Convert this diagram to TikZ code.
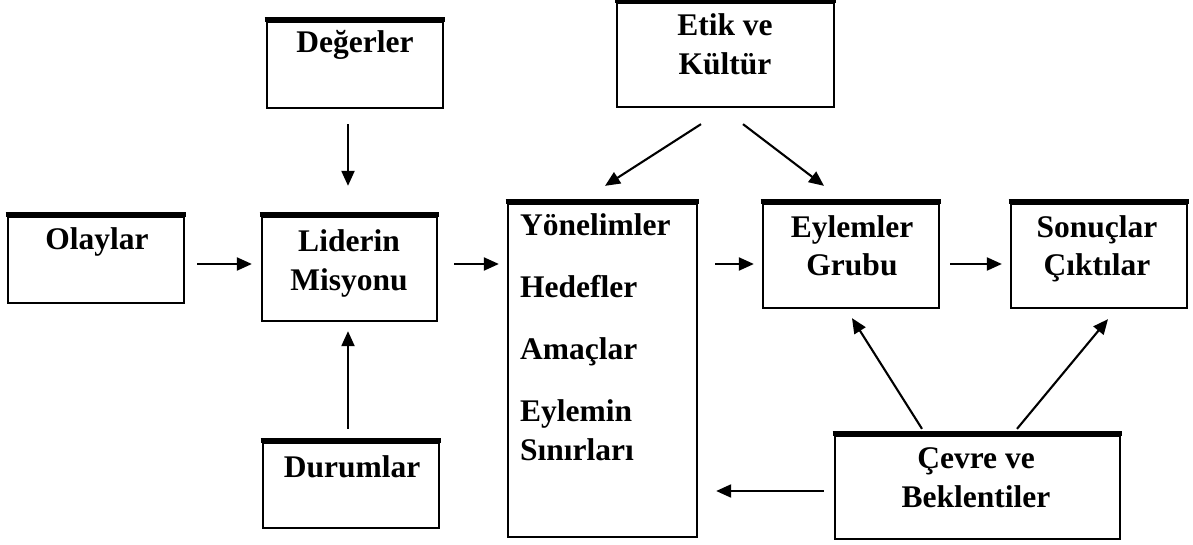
\documentclass[tikz,border=0pt]{standalone}
\usepackage{fontspec}
\setmainfont{Liberation Serif}
\usetikzlibrary{arrows.meta}
\begin{document}
\begin{tikzpicture}[x=1pt,y=-1pt,
  box/.style={draw, line width=2.3pt, inner sep=0pt},
  topbar/.style={line width=5pt, shorten <=-1.15pt, shorten >=-1.15pt},
  lbl/.style={font=\bfseries\fontsize{31.5}{39}\selectfont, align=center, anchor=base, inner sep=0pt},
  arr/.style={line width=2.1pt, -{Triangle[length=15pt,width=13pt]}},
]
\useasboundingbox (0,0) rectangle (1193,545);

% boxes
\node[box, minimum width=176pt, minimum height=86pt]  (deg) at (355,65) {};
\node[box, minimum width=176pt, minimum height=86pt]  (ola) at (96,260) {};
\node[box, minimum width=175pt, minimum height=104pt] (lid) at (349.5,269) {};
\node[box, minimum width=176pt, minimum height=85pt]  (dur) at (351,485.5) {};
\node[box, minimum width=189pt, minimum height=333pt] (yon) at (602.5,370.5) {};
\node[box, minimum width=217pt, minimum height=104pt] (etk) at (725.5,55) {};
\node[box, minimum width=176pt, minimum height=104pt] (eyl) at (851,256) {};
\node[box, minimum width=176pt, minimum height=104pt] (son) at (1099,256) {};
\node[box, minimum width=285pt, minimum height=103pt] (cev) at (977.5,487.5) {};

% heavy top edges
\foreach \b in {deg,ola,lid,dur,yon,etk,eyl,son,cev}
  \draw[topbar] ([yshift=1.2pt]\b.north west) -- ([yshift=1.2pt]\b.north east);

% labels (multi-line labels are placed by the baseline of their last line)
\node[lbl] (tdeg) at (355,53) {Değerler};
\node[lbl] (tola) at (97,250) {Olaylar};
\node[lbl] (tlid) at (349,290) {Liderin\\Misyonu};
\node[lbl] (tdur) at (352,477) {Durumlar};
\node[lbl, align=left, anchor=base west] (tyon) at (520,460)
  {Yönelimler\\[23pt]Hedefler\\[23pt]Amaçlar\\[23pt]Eylemin\\Sınırları};
\node[lbl] (tetk) at (725,75) {Etik ve\\Kültür};
\node[lbl] (teyl) at (852,276) {Eylemler\\Grubu};
\node[lbl] (tson) at (1097,276) {Sonuçlar\\Çıktılar};
\node[lbl] (tcev) at (976,507) {Çevre ve\\Beklentiler};

% connectors
\draw[arr] ([shift={(-7,15)}]deg.south) -- ([shift={(-1.5,-30)}]lid.north);
\draw[arr] ([shift={(-3,-13)}]dur.north) -- ([shift={(-1.5,9)}]lid.south);
\draw[arr] ([shift={(12,4)}]ola.east) -- ([shift={(-9,-5)}]lid.west);
\draw[arr] ([shift={(16,-5)}]lid.east) -- ([shift={(-8,-106.5)}]yon.west);
\draw[arr] ([shift={(17,-106.5)}]yon.east) -- ([shift={(-8,8)}]eyl.west);
\draw[arr] ([shift={(10,8)}]eyl.east) -- ([shift={(-8,8)}]son.west);
\draw[arr] ([shift={(-24.5,16)}]etk.south) -- ([shift={(2.5,-17)}]yon.north);
\draw[arr] ([shift={(17.5,16)}]etk.south) -- ([shift={(-27,-17)}]eyl.north);
\draw[arr] ([shift={(-55.5,-6)}]cev.north) -- ([shift={(1,9)}]eyl.south);
\draw[arr] ([shift={(39.5,-6)}]cev.north) -- ([shift={(9,10)}]son.south);
\draw[arr] ([shift={(-10,3.5)}]cev.west) -- ([shift={(18,120.5)}]yon.east);
\end{tikzpicture}
\end{document}
